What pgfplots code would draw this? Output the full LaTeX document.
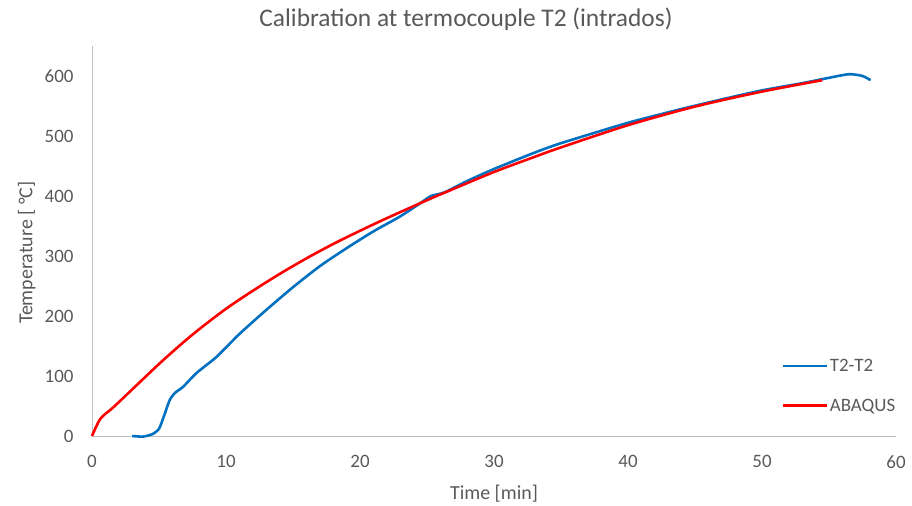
\documentclass[border=0pt]{standalone}
\usepackage{pgfplots}
\pgfplotsset{compat=1.18}
\usepackage{fontspec}
\setmainfont{Carlito}
\definecolor{axisgray}{HTML}{BFBFBF}
\definecolor{txtgray}{HTML}{595959}
\definecolor{tblue}{HTML}{0070C0}
\definecolor{tred}{HTML}{FF0000}
\begin{document}
\begin{tikzpicture}[x=1bp,y=1bp]
\useasboundingbox (0,0) rectangle (912,506);
\begin{axis}[
  at={(92bp,70bp)}, anchor=south west,
  scale only axis, width=804bp, height=390bp,
  xmin=0, xmax=60, ymin=0, ymax=650,
  xtick={0,10,...,60}, ytick={0,100,...,600},
  axis lines*=left,
  axis line style={axisgray, line width=0.9pt, -},
  major tick length=0pt,
  tick style={draw=none},
  /pgf/number format/assume math mode=true,
  ticklabel style={font=\fontsize{19}{22}\selectfont, text=txtgray},
  yticklabel style={xshift=-15bp},
  xticklabel style={yshift=-16bp},
  xlabel={Time [min]}, ylabel={Temperature [ °C]},
  label style={font=\fontsize{20}{24}\selectfont, text=txtgray},
  xlabel style={at={(axis description cs:0.5,0)}, anchor=center, yshift=-58bp},
  ylabel style={at={(axis description cs:-0.081,0.47)}, anchor=center},
  title={Calibration at termocouple T2 (intrados)},
  title style={font=\fontsize{25.5}{30}\selectfont, text=txtgray, at={(axis description cs:0.5,1)}, anchor=center, yshift=21bp, xshift=-28bp},
  legend style={draw=none, fill=none, at={(axis cs:51.2,32)}, anchor=south west,
    font=\fontsize{19}{22}\selectfont, text=txtgray, row sep=22bp,
    legend cell align=left},
  legend image code/.code={\draw[#1, line width=2.6pt] (0bp,0bp) -- (44bp,0bp);},
  clip=false,
]
\addplot[tblue, line width=2.6pt, smooth, tension=0.4] coordinates {
(3,0)(3.8,-1)(4.5,3)(5,12)(5.4,35)(5.8,60)(6.2,72)(6.8,82)(7.8,105)(9.3,132)
(11,170)(13,210)(15,248)(17,283)(19,313)(21,341)(23,366)(24.5,388)(25.3,400)(26.3,406)(28,425)
(30,445)(33,472)(35,488)(40,522)(44,545)(47,561)(50,576)(53,588)(55,597)
(56.5,603)(57.5,600)(58.1,593)};
\addlegendentry{T2-T2}
\addplot[tred, line width=2.6pt, smooth, tension=0.5] coordinates {
(0,0)(0.3,15)(0.6,28)(1,37)(1.6,48)(3.3,84)(5,120)(6.5,150)(8,178)(10,212)
(12,242)(14,270)(16,296)(18,320)(20,342)(22,363)(25,393)(27,412)(30,440)
(33,465)(35,481)(40,518)(45,549)(50,574)(54.5,593)};
\addlegendentry{ABAQUS}
\end{axis}
\end{tikzpicture}
\end{document}
